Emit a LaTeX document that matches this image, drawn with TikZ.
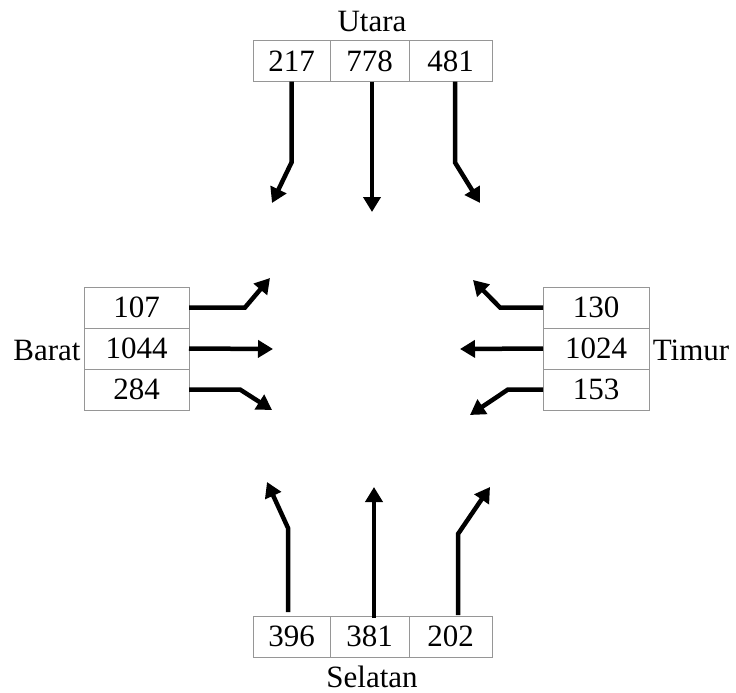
\documentclass[tikz,border=0pt]{standalone}
\usepackage{fontspec}
\setmainfont{Liberation Serif}
\usetikzlibrary{arrows.meta}
\definecolor{boxgray}{RGB}{150,150,150}
\begin{document}
\begin{tikzpicture}[x=1pt,y=-1pt,
  txt/.style={font=\fontsize{31}{33}\selectfont, inner sep=0pt, anchor=base},
  cell/.style={draw=boxgray, line width=1pt, minimum width=#1, minimum height=41pt,
    inner sep=0pt, outer sep=0pt, font=\fontsize{31}{33}\selectfont},
  arr/.style={line width=4.5pt, -{Triangle[length=15pt,width=17pt]}}]
\useasboundingbox (0,0) rectangle (736,693);
% North
\node[txt] (utara) at (372,32) {Utara};
\node[cell=77pt] (t1) at (291.5,61) {217};
\node[cell=79pt] (t2) at (369.5,61) {778};
\node[cell=83pt] (t3) at (450.5,61) {481};
% West
\node[txt] (barat) at (47,360) {Barat};
\node[cell=105pt] (l1) at (136.5,307.5) {107};
\node[cell=105pt] (l2) at (136.5,348.5) {1044};
\node[cell=105pt] (l3) at (136.5,389.5) {284};
% East
\node[txt] (timur) at (691,360) {Timur};
\node[cell=106pt] (r1) at (596,307.5) {130};
\node[cell=106pt] (r2) at (596,348.5) {1024};
\node[cell=106pt] (r3) at (596,389.5) {153};
% South
\node[txt] (selatan) at (372,687) {Selatan};
\node[cell=77pt] (b1) at (291.5,636.5) {396};
\node[cell=79pt] (b2) at (369.5,636.5) {381};
\node[cell=83pt] (b3) at (450.5,636.5) {202};
% free ends
\coordinate (t1end) at (272,203);
\coordinate (t2end) at (372,212);
\coordinate (t3end) at (480,203);
\coordinate (l1end) at (270,278);
\coordinate (l2end) at (273,349);
\coordinate (l3end) at (272,410);
\coordinate (r1end) at (473,280);
\coordinate (r2end) at (460,349);
\coordinate (r3end) at (470,415);
\coordinate (b1end) at (267,482);
\coordinate (b2end) at (374,487);
\coordinate (b3end) at (490,487);
% arrows
\draw[arr] (t1.south) -- ++(0,81) -- (t1end);
\draw[arr] ([xshift=2.5pt]t2.south) -- (t2end);
\draw[arr] ([xshift=4.5pt]t3.south) -- ++(0,81) -- (t3end);
\draw[arr] (l1.east) -- ++(56,0) -- (l1end);
\draw[arr] (l2.east) -- (l2end);
\draw[arr] (l3.east) -- ++(51,0) -- (l3end);
\draw[arr] (r1.west) -- ++(-43,0) -- (r1end);
\draw[arr] (r2.west) -- (r2end);
\draw[arr] (r3.west) -- ++(-35,0) -- (r3end);
\draw[arr] ([xshift=-3.5pt,yshift=4pt]b1.north) -- ++(0,-84) -- (b1end);
\draw[arr] ([xshift=4.5pt,yshift=-2pt]b2.north) -- (b2end);
\draw[arr] ([xshift=7.5pt,yshift=1pt]b3.north) -- ++(0,-81) -- (b3end);
\end{tikzpicture}
\end{document}
